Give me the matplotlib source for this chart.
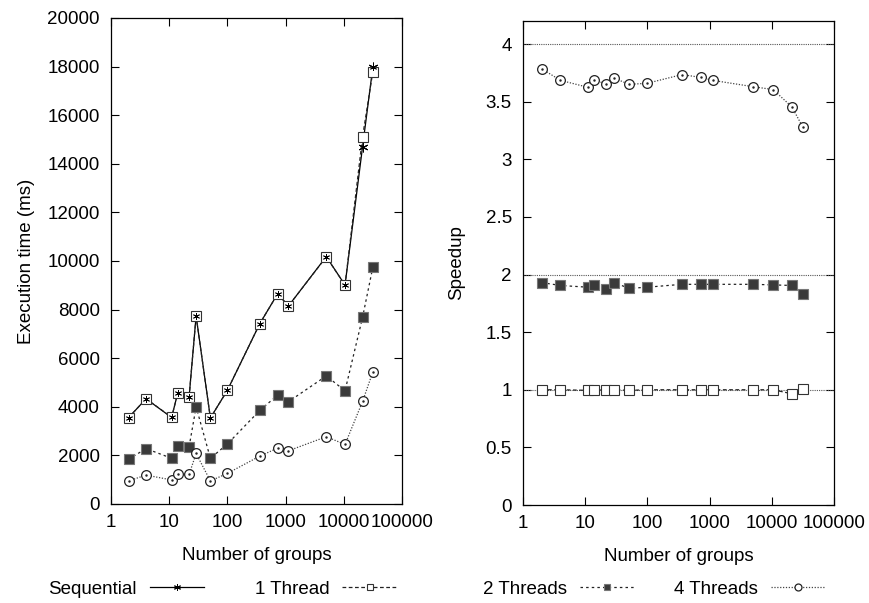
import numpy as np
import matplotlib
matplotlib.use("Agg")
import matplotlib.pyplot as plt
from matplotlib.lines import Line2D
from matplotlib.ticker import LogLocator, NullFormatter, FixedLocator

plt.rcParams['font.family'] = ['Liberation Sans', 'DejaVu Sans']
plt.rcParams['font.size'] = 13.5
fs = 13.5

# number of groups (x values)
groups = [2, 4, 11, 14, 22, 29, 51, 100, 360, 730, 1120, 5000, 10500, 21000, 31500]

# execution time (ms)
sequential = [3550, 4330, 3560, 4560, 4420, 7740, 3540, 4680, 7420, 8650, 8150, 10180, 9010, 14700, 17970]
one_thread = [3550, 4330, 3570, 4550, 4410, 7730, 3540, 4680, 7420, 8650, 8150, 10170, 9010, 15110, 17780]
two_threads = [1840, 2280, 1880, 2390, 2360, 4000, 1880, 2470, 3850, 4480, 4210, 5270, 4660, 7680, 9740]
four_threads = [950, 1190, 990, 1250, 1220, 2080, 950, 1260, 1970, 2300, 2190, 2770, 2450, 4220, 5430]

# speedup
speedup_1 = [1.0, 1.0, 0.995, 1.0, 0.995, 1.0, 0.995, 1.0, 1.0, 1.0, 1.0, 1.0, 1.0, 0.965, 1.01]
speedup_2 = [1.93, 1.905, 1.89, 1.91, 1.875, 1.93, 1.88, 1.89, 1.915, 1.915, 1.915, 1.915, 1.91, 1.905, 1.835]
speedup_4 = [3.785, 3.685, 3.625, 3.685, 3.655, 3.705, 3.65, 3.66, 3.735, 3.71, 3.685, 3.63, 3.605, 3.455, 3.28]
ref_lines = [1, 2, 4]

ast = (6, 2, 0)
st_seq = dict(color='black', lw=0.9, ls='-', marker=ast, ms=7, mew=0.7)
st_one = dict(color='#222222', lw=0.9, ls=(0, (3, 2)), marker='s', ms=7, mfc='white',
              mec='#333333', mew=0.8)
st_two = dict(color='#222222', lw=0.9, ls=(0, (2, 2.5)), marker='s', ms=7, mfc='#3a3a3a',
              mec='#777777', mew=0.8)
st_four = dict(color='#444444', lw=0.9, ls=(0, (1, 1.3)), marker='o', ms=7, mfc='white',
               mec='#222222', mew=0.9)

fig = plt.figure(figsize=(8.7, 6.03), dpi=100)
ax1 = fig.add_axes([111/870, 1-504/603, 291/870, 486/603])
ax2 = fig.add_axes([523/870, 1-505/603, 311/870, 484/603])

ax1.plot(groups, sequential, **st_seq)
ax1.plot(groups, one_thread, **st_one)
ax1.plot(groups, two_threads, **st_two)
ax1.plot(groups, four_threads, **st_four)
ax1.plot(groups, sequential, ls='none', marker=ast, ms=5, mew=0.6, color='black')
ax1.plot(groups, four_threads, ls='none', marker='.', ms=1.5, color='#222222')

for r in ref_lines:
    ax2.axhline(r, color='#555555', lw=0.8, ls=(0, (1, 1)))
ax2.plot(groups, speedup_1, **st_one)
ax2.plot(groups, speedup_2, **st_two)
ax2.plot(groups, speedup_4, **st_four)
ax2.plot(groups, speedup_4, ls='none', marker='.', ms=1.5, color='#222222')

for ax in (ax1, ax2):
    ax.set_xscale('log')
    ax.set_xlim(1, 100000)
    ax.xaxis.set_major_locator(FixedLocator([1, 10, 100, 1000, 10000, 100000]))
    ax.set_xticklabels(['1', '10', '100', '1000', '10000', '100000'])
    ax.xaxis.set_minor_locator(LogLocator(base=10, subs=np.arange(2, 10)))
    ax.xaxis.set_minor_formatter(NullFormatter())
    ax.tick_params(which='both', direction='in', top=True, right=True)
    ax.tick_params(which='major', length=6, width=0.8, labelsize=fs)
    ax.tick_params(axis='x', pad=7)
    ax.tick_params(axis='y', pad=8)
    ax.tick_params(which='minor', length=3, width=0.6)
    ax.set_xlabel('Number of groups', fontsize=fs, labelpad=12)
    for s in ax.spines.values():
        s.set_linewidth(0.9)

ax1.set_ylim(0, 20000)
ax1.set_yticks(np.arange(0, 20001, 2000))
ax1.set_ylabel('Execution time (ms)', fontsize=fs, labelpad=9)

ax2.set_ylim(0, 4.2)
ax2.set_yticks(np.arange(0, 4.01, 0.5))
ax2.set_yticklabels(['0', '0.5', '1', '1.5', '2', '2.5', '3', '3.5', '4'])
ax2.set_ylabel('Speedup', fontsize=fs, labelpad=15)

def handle(st):
    h = dict(st)
    h['ms'] = 5
    return Line2D([], [], **h)

leg_kw = dict(frameon=False, markerfirst=False, ncol=2, fontsize=fs,
              handlelength=2.9, handletextpad=0.7, borderpad=0, borderaxespad=0)
fig.legend([handle(st_seq), handle(st_one)], ['Sequential', '1 Thread'],
           loc='center left', bbox_to_anchor=(48/870, 1-589/603), columnspacing=2.7, **leg_kw)
fig.legend([handle(st_two), handle(st_four)], ['2 Threads', '4 Threads'],
           loc='center left', bbox_to_anchor=(483/870, 1-589/603), columnspacing=2.1, **leg_kw)

fig.savefig('out.png', dpi=100)
